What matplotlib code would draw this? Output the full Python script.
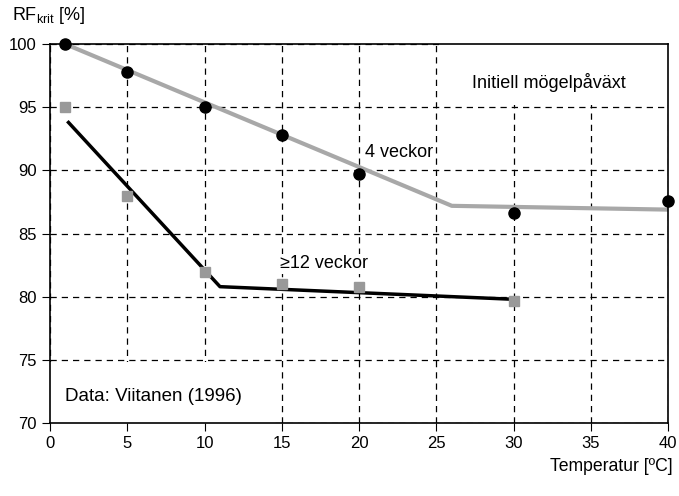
import matplotlib
matplotlib.use("Agg")
import matplotlib.pyplot as plt
from matplotlib.patches import Rectangle

plt.rcParams['font.family'] = ['Liberation Sans', 'DejaVu Sans']

# 4 veckor - measured points (circles)
temp_4w = [1, 5, 10, 15, 20, 30, 40]
rf_4w = [100, 97.8, 95.0, 92.8, 89.7, 86.6, 87.6]
# 4 veckor - fitted line (gray)
fit_4w_x = [1, 26, 40]
fit_4w_y = [100, 87.2, 86.9]

# >=12 veckor - measured points (squares)
temp_12w = [1, 5, 10, 15, 20, 30]
rf_12w = [95.0, 88.0, 82.0, 81.0, 80.8, 79.7]
# >=12 veckor - fitted line (black)
fit_12w_x = [1.2, 11, 30]
fit_12w_y = [93.8, 80.8, 79.8]

x_ticks = [0, 5, 10, 15, 20, 25, 30, 35, 40]
y_ticks = [70, 75, 80, 85, 90, 95, 100]

fig = plt.figure(figsize=(6.79, 4.96), dpi=100)
ax = fig.add_axes([0.0736, 0.147, 0.9105, 0.764])

ax.set_xlim(0, 40)
ax.set_ylim(70, 100)
ax.set_xticks(x_ticks)
ax.set_yticks(y_ticks)
ax.tick_params(labelsize=12, length=6, direction='out', color='black')
ax.grid(True, color='black', ls=(0, (5, 4)), lw=0.9, zorder=0)
ax.set_axisbelow(True)
for s in ax.spines.values():
    s.set_linewidth(1.2)

# white boxes that hide the grid behind the notes
ax.add_patch(Rectangle((25.2, 95.15), 14.8, 4.85, facecolor='white',
                       edgecolor='none', zorder=1))
ax.add_patch(Rectangle((0, 70), 14.5, 4.85, facecolor='white',
                       edgecolor='none', zorder=1))

ax.plot(fit_4w_x, fit_4w_y, color='#a8a8a8', lw=3, zorder=2)
ax.plot(fit_12w_x, fit_12w_y, color='black', lw=2.5, zorder=2)
ax.plot(temp_4w, rf_4w, 'o', color='black', ms=8, zorder=4, clip_on=False)
ax.plot(temp_12w, rf_12w, 's', color='#999999', ms=7.5, zorder=3, clip_on=False)

box = dict(facecolor='white', edgecolor='none', pad=1)
ax.text(27.3, 97, "Initiell mögelpåväxt", fontsize=13, va='center', zorder=5)
ax.text(20.4, 91.4, "4 veckor", fontsize=13, va='center', bbox=box, zorder=5)
ax.text(14.9, 82.6, "≥12 veckor", fontsize=13, va='center', bbox=box, zorder=5)
ax.text(1.0, 72.1, "Data: Viitanen (1996)", fontsize=13.5, va='center', zorder=5)

fig.text(0.017, 0.968, "RF$_{\\mathregular{krit}}$ [%]", fontsize=13, va='center')
fig.text(0.99, 0.06, "Temperatur [ºC]", fontsize=12.7, ha='right', va='center')

fig.savefig("out.png", dpi=100)
